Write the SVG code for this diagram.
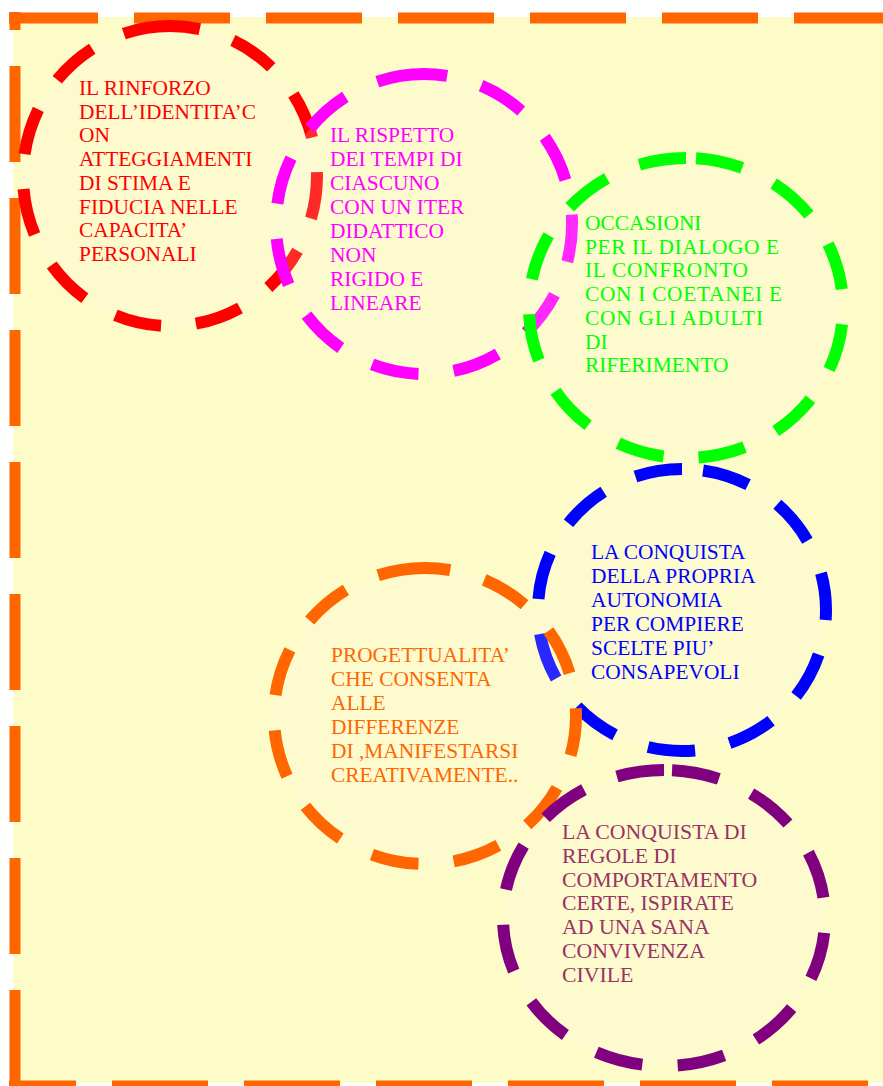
<svg xmlns="http://www.w3.org/2000/svg" width="883" height="1086" viewBox="0 0 883 1086">
<style>
.frame{stroke:#FF6600;stroke-width:11;stroke-dasharray:96 36;fill:none}
.ring{stroke-width:12;stroke-dasharray:47 35;fill:#FFFFF2;fill-opacity:0.16}
.lbl{font-family:"Liberation Serif","Times New Roman",serif;font-size:21.4px}
</style>
<rect x="0" y="0" width="883" height="1086" fill="#FFFFFF"/>
<rect x="13" y="17" width="870" height="1066" fill="#FDFBC8"/>
<g id="frame">
<line class="frame" x1="9" y1="18" x2="883" y2="18" stroke-dashoffset="7"/>
<line class="frame" x1="15" y1="12" x2="15" y2="1086" stroke-dashoffset="78"/>
<line class="frame" x1="9" y1="1086" x2="883" y2="1086" stroke-dashoffset="29"/>
</g>
<g id="connectors"></g>
<g id="node-rinforzo">
<path class="ring" stroke="#FF0000" pathLength="932" d="M170,26 A147,150 0 1 0 170,326 A147,150 0 1 0 170,26 Z"/>
<text class="lbl" fill="#FF0000" x="79" y="95"><tspan x="79">IL RINFORZO</tspan><tspan x="79" dy="23.7">DELL’IDENTITA’C</tspan><tspan x="79" dy="23.7">ON</tspan><tspan x="79" dy="23.7">ATTEGGIAMENTI</tspan><tspan x="79" dy="23.7">DI STIMA E</tspan><tspan x="79" dy="23.7">FIDUCIA NELLE</tspan><tspan x="79" dy="23.7">CAPACITA’</tspan><tspan x="79" dy="23.7">PERSONALI</tspan></text>
</g>
<g id="node-rispetto">
<path class="ring" stroke="#FF00FF" pathLength="925" d="M424,74 A148,150 0 1 0 424,374 A148,150 0 1 0 424,74 Z"/>
<text class="lbl" fill="#FF00FF" x="330" y="142"><tspan x="330">IL RISPETTO</tspan><tspan x="330" dy="24">DEI TEMPI DI</tspan><tspan x="330" dy="24">CIASCUNO</tspan><tspan x="330" dy="24">CON UN ITER</tspan><tspan x="330" dy="24">DIDATTICO</tspan><tspan x="330" dy="24">NON</tspan><tspan x="330" dy="24">RIGIDO E</tspan><tspan x="330" dy="24">LINEARE</tspan></text>
</g>
<g id="node-occasioni">
<path class="ring" stroke="#00FF00" pathLength="959" d="M686,158 A157,150 0 1 0 686,458 A157,150 0 1 0 686,158 Z"/>
<text class="lbl" fill="#00FF00" x="585" y="230"><tspan x="585">OCCASIONI</tspan><tspan x="585" dy="23.7" textLength="194" lengthAdjust="spacing">PER IL DIALOGO E</tspan><tspan x="585" dy="23.7" textLength="163" lengthAdjust="spacing">IL CONFRONTO</tspan><tspan x="585" dy="23.7" textLength="197" lengthAdjust="spacing">CON I COETANEI E</tspan><tspan x="585" dy="23.7" textLength="178" lengthAdjust="spacing">CON GLI ADULTI</tspan><tspan x="585" dy="23.7">DI</tspan><tspan x="585" dy="23.7">RIFERIMENTO</tspan></text>
</g>
<g id="node-autonomia">
<path class="ring" stroke="#0000FF" pathLength="888" d="M682,469 A144,141 0 1 0 682,751 A144,141 0 1 0 682,469 Z"/>
<text class="lbl" fill="#0000FF" x="591" y="559"><tspan x="591">LA CONQUISTA</tspan><tspan x="591" dy="24">DELLA PROPRIA</tspan><tspan x="591" dy="24">AUTONOMIA</tspan><tspan x="591" dy="24">PER COMPIERE</tspan><tspan x="591" dy="24">SCELTE PIU’</tspan><tspan x="591" dy="24">CONSAPEVOLI</tspan></text>
</g>
<g id="node-progettualita">
<path class="ring" stroke="#FF6600" pathLength="927" d="M425,568 A151,148 0 1 0 425,864 A151,148 0 1 0 425,568 Z"/>
<text class="lbl" fill="#FF6600" x="331" y="662"><tspan x="331">PROGETTUALITA’</tspan><tspan x="331" dy="24">CHE CONSENTA</tspan><tspan x="331" dy="24">ALLE</tspan><tspan x="331" dy="24">DIFFERENZE</tspan><tspan x="331" dy="24">DI ,MANIFESTARSI</tspan><tspan x="331" dy="24">CREATIVAMENTE..</tspan></text>
</g>
<g id="node-regole">
<path class="ring" stroke="#800080" pathLength="957" d="M664,770 A161,148 0 1 0 664,1066 A161,148 0 1 0 664,770 Z"/>
<text class="lbl" fill="#993366" x="562" y="839" style="font-size:21.8px"><tspan x="562">LA CONQUISTA DI</tspan><tspan x="562" dy="23.8">REGOLE DI</tspan><tspan x="562" dy="23.8">COMPORTAMENTO</tspan><tspan x="562" dy="23.8">CERTE, ISPIRATE</tspan><tspan x="562" dy="23.8">AD UNA SANA</tspan><tspan x="562" dy="23.8">CONVIVENZA</tspan><tspan x="562" dy="23.8">CIVILE</tspan></text>
</g>
</svg>
